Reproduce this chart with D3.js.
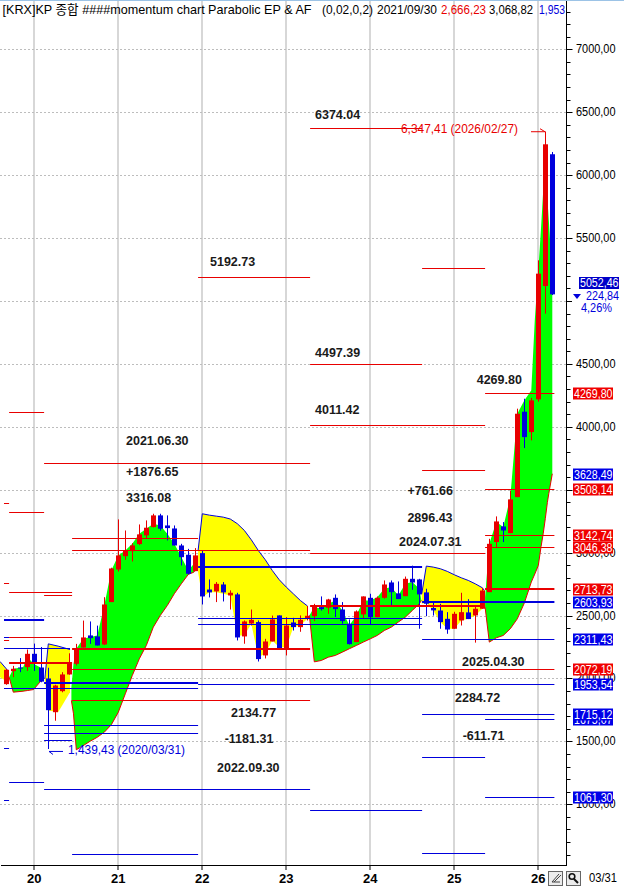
<!DOCTYPE html>
<html><head><meta charset="utf-8">
<script src="https://cdn.jsdelivr.net/npm/d3@7/dist/d3.min.js"></script>
<style>html,body{margin:0;padding:0;background:#fff}svg{display:block}</style></head>
<body><svg id="c" width="624" height="886"></svg>
<script>
// Monthly candles, index 0 = 2019/09, 78 = 2026/03
const opens=[1955,2058,2087,2090,2196,2087,2000,1732,1899,2032,2116,2246,2342,2334,2270,2607,2866,2972,3012,3068,3137,3203,3296,3216,3192,3057,2983,2853,2996,2707,2692,2747,2660,2668,2334,2437,2448,2183,2294,2501,2238,2445,2408,2474,2495,2567,2562,2641,2548,2435,2289,2509,2641,2487,2641,2763,2676,2654,2792,2787,2684,2560,2540,2474,2395,2461,2525,2501,2554,2686,3084,3208,3155,3441,4120,3958,4218,5119,6166];
const highs=[2075,2100,2162,2230,2277,2250,2085,1950,2050,2200,2275,2460,2453,2420,2646,2880,3264,3176,3075,3224,3256,3309,3309,3296,3216,3070,3030,3036,3017,2787,2766,2766,2700,2681,2461,2548,2461,2315,2500,2501,2488,2482,2501,2577,2593,2652,2633,2668,2607,2469,2541,2652,2673,2652,2779,2779,2771,2810,2896.43,2792,2713,2600,2593,2527,2530,2681,2630,2570,2720,3110,3288,3243,3494,4144,4223,4230,5323,6347.41,6184];
const lows=[1950,2010,2050,2060,2060,1970,1439.43,1664,1890,2030,2103,2246,2275,2262,2265,2607,2850,2943,2930,3060,3115,3200,3175,3097,3057,2898,2827,2853,2588,2644,2607,2612,2548,2302,2276,2421,2134.77,2159,2294,2236,2183,2381,2371,2461,2456,2540,2514,2488,2435,2270,2289,2474,2429,2487,2634,2572,2631,2654,2705,2395,2495,2500,2395,2355,2395,2421,2472,2284.72,2554,2686,3036,3084,3155,3441,3831,3892,4200,4899,5047];
const closes=[2069,2077,2083,2196,2116,1975,1748,1944,2032,2116,2241,2326,2320,2262,2588,2874,2978,3017,3057,3145,3198,3296,3190,3195,3057,2964,2832,2978,2652,2684,2752,2684,2681,2326,2453,2466,2154,2294,2469,2238,2421,2408,2466,2498,2577,2551,2628,2551,2456,2273,2533,2652,2487,2641,2747,2686,2631,2792,2763,2668,2594,2541,2448,2389,2514,2527,2472,2554,2699,3070,3248,3176,3423,4104,3918,4210,5217,6245,5052.46];

// Parabolic zones: [month index, SAR, price side]
const yellowZones=[
 [[-0.9,2135,2010],[0.2,2064,1971]],
 [[5.5,1997,1997],[6,2275,1745],[7.4,2257,1732],[9.1,2230,1891]],
 [[27.4,3017,2845],[28,3309,2646],[29,3298,2686],[30,3290,2686],[31,3282,2673],[32,3267,2660],[33,3230,2342],[34,3177,2342],[35,3102,2435],[36,3017,2170],[37,2943,2196],[38,2858,2302],[39,2784,2249],[40,2726,2249],[41,2673,2408],[42,2620,2421],[43,2577,2474]],
 [[59.35,2673,2593],[60,2893,2599],[61,2885,2541],[62,2872,2448],[63,2851,2395],[64,2824,2395],[65,2800,2461],[66,2779,2474],[67,2752,2501],[68,2721,2554],[68.3,2699,2567]]
];
const greenZones=[
 [[0.4,2010,2010],[1,1891,2077],[2.4,1899,2090],[3,1904,2170],[3.9,1912,2116],[4.8,1971,2090],[5.2,1997,2010]],
 [[9.3,1825,1931],[9.6,1719,2116],[10,1433,2236],[11,1467,2315],[12,1502,2329],[13,1533,2342],[14,1573,2580],[15,1632,2858],[16,1732,2978],[17,1878,3017],[18,2024,3071],[19,2156,3150],[20,2262,3190],[21,2408,3230],[22,2501,3216],[23,2580,3150],[24,2673,3071],[25,2752,2965],[26,2827,2858],[26.8,2845,2911],[27.1,2872,2911]],
 [[43.3,2501,2501],[44,2132,2567],[45,2143,2554],[46,2169,2594],[47,2183,2620],[48,2209,2540],[49,2236,2421],[50,2262,2501],[51,2289,2620],[52,2315,2620],[53,2342,2646],[54,2381,2713],[55,2408,2726],[56,2448,2660],[57,2487,2752],[58,2540,2766],[59,2594,2713],[59.3,2620,2620]],
 [[68.4,2567,2646],[69,2289,3070],[70,2323,3243],[71,2342,3203],[72,2395,3441],[73,2474,4104],[74,2599,4210],[75,2766,4290],[75.5,2830,4851],[76,2898,5240],[76.4,3050,5588],[76.7,3150,5874],[77,3270,5900],[77.3,3400,5813],[77.5,3470,5641],[78,3627,5200]]
];

// Level lines: [from month, to month, value]
const redLevels=[[43.4,59.4,6374.04],[27.4,43.4,5192.73],[59.4,68.4,5263],[43.4,59.4,4497.39],[43.4,68.4,4011.42],[68.4,78.3,4269.8],[59.4,68.4,3658],[68.4,78.3,3508.14],[68.4,78.3,3142.74],[68.4,78.3,3046.38],[43.4,68.4,2999],[5.4,43.4,3714],[0.4,5.4,4119],[0.4,5.4,3325],[-0.33,0.4,3396],[9.4,27.4,3116],[9.4,43.4,3019],[0.4,9.4,2687],[5.4,9.4,2665],[-0.33,0.4,2761],[0.4,9.4,2332],[-0.33,0.4,2303],[9.4,78.3,2072.19],[9.4,43.4,1831]];
const redThick=[[68.4,78.3,2713.73],[43.4,68.4,2573],[9.4,43.4,2237],[0.4,9.4,2120]];
const blueLevels=[[27.4,78.3,1953.54],[-0.33,27.4,1927],[-0.33,9.1,2245],[-0.33,0.4,2332],[59.4,78.3,2311.43],[27.4,59.4,2483],[27.4,59.4,2435],[5.4,27.4,1633],[5.4,27.4,1567],[5.4,9.4,1508],[-0.33,0.4,1450],[0.4,5.4,1180],[5.4,43.4,1122],[-0.33,0.4,1037],[9.4,27.4,606],[59.4,78.3,1715.12],[68.4,78.3,1675.07],[59.4,68.4,1376],[68.4,78.3,1061.3],[43.4,59.4,955],[59.4,68.4,614]];
const blueThick=[[-0.33,5.4,2467],[5.4,27.4,1961],[27.4,59.4,2882],[59.4,78.3,2603.93]];

// Axis data
const priceTicks=[7000,6500,6000,5500,5000,4500,4000,3500,3000,2500,2000,1500,1000];
const priceLabels=[7000,6500,6000,5500,4500,4000,3000,2500,2000,1500,1000];
const minorTicks=[7300,7200,7100,6900,6800,6700,6600,6400,6300,6200,6100,5900,5800,5700,5600,5400,5300,5200,5100,4900,4800,4700,4600,4400,4300,4200,4100,3900,3800,3700,3600,3400,3300,3200,3100,2900,2800,2700,2600,2400,2300,2200,2100,1900,1800,1700,1600,1400,1300,1200,1100,900,800,700,600];
const yearTicks=[4,16,28,40,52,64,76];
const yearLabels=["20","21","22","23","24","25","26"];

// Right-hand price tags
const tagValues=[4269.80,3628.49,3508.14,3142.74,3046.38,2713.73,2603.93,2311.43,2072.19,1953.54,1675.07,1715.12,1061.30];
const tagLabels=["4269,80","3628,49","3508,14","3142,74","3046,38","2713,73","2603,93","2311,43","2072,19","1953,54","1675,07","1715,12","1061,30"];
const tagColors=["r","b","r","r","r","r","b","b","r","b","b","b","b"];

// Annotations: [text, month, value]
const notes=[["6374.04",44.1,6480],["5192.73",29.1,5306],["4497.39",44.1,4590],["4011.42",44.1,4130],["2021.06.30",17.1,3889],["+1876.65",17.1,3642],["3316.08",17.1,3436],["4269.80",67.2,4373],["+761.66",57.3,3492],["2896.43",57.3,3277],["2024.07.31",56.1,3087],["2134.77",32.1,1724],["-1181.31",31.2,1517],["2022.09.30",30.1,1287],["2025.04.30",65.1,2133],["2284.72",64.1,1841],["-611.71",65.2,1539]];

const W=566,T=1,B=865;
const x=d3.scaleLinear().domain([0,80]).range([6.3,566.3]);
const y=d3.scaleLinear().domain([1000,7000]).range([804.3,49.3]);
const svg=d3.select("#c");
const NARROW="'Liberation Sans Narrow','Liberation Sans',sans-serif";
const RED="#e80000",BLUE="#0000dc";
const defs=svg.append("defs");
defs.append("clipPath").attr("id","plot").append("rect").attr("x",0).attr("y",T).attr("width",W).attr("height",B-T);

// frame
svg.append("rect").attr("x",0).attr("y",0).attr("width",624).attr("height",1).attr("fill","#9cc3e6");

// grid
const grid=svg.append("g");
grid.selectAll("line.h").data(priceTicks).join("line").attr("class","h")
 .attr("x1",0).attr("x2",W).attr("y1",d=>Math.round(y(d))+.5).attr("y2",d=>Math.round(y(d))+.5)
 .attr("stroke","#bdbdbd").attr("stroke-dasharray","2 2");
grid.selectAll("line.v").data(yearTicks).join("line").attr("class","v")
 .attr("x1",d=>Math.round(x(d))).attr("x2",d=>Math.round(x(d))).attr("y1",T).attr("y2",B)
 .attr("stroke","#bcbcbc").attr("stroke-width",1.2);

const plot=svg.append("g").attr("clip-path","url(#plot)");
const area=d3.area().x(d=>x(d[0])).y0(d=>y(d[1])).y1(d=>y(d[2]));
const sarLine=d3.line().x(d=>x(d[0])).y(d=>y(d[1]));
greenZones.forEach(z=>plot.append("path").attr("d",area(z)).attr("fill","#00ff00"));
yellowZones.forEach(z=>plot.append("path").attr("d",area(z)).attr("fill","#ffff00"));
greenZones.forEach(z=>plot.append("path").attr("d",sarLine(z)).attr("fill","none").attr("stroke",RED).attr("stroke-width",1));
yellowZones.forEach(z=>plot.append("path").attr("d",sarLine(z)).attr("fill","none").attr("stroke",BLUE).attr("stroke-width",1));

// candles
const idx=d3.range(closes.length);
const col=i=>closes[i]>=opens[i]?RED:BLUE;
plot.selectAll("line.w").data(idx).join("line").attr("class","w")
 .attr("x1",i=>Math.round(x(i))+.5).attr("x2",i=>Math.round(x(i))+.5)
 .attr("y1",i=>y(highs[i])).attr("y2",i=>y(lows[i])).attr("stroke",col);
plot.selectAll("rect.b").data(idx).join("rect").attr("class","b")
 .attr("x",i=>Math.round(x(i))-2).attr("width",5)
 .attr("y",i=>y(Math.max(opens[i],closes[i])))
 .attr("height",i=>Math.max(1,Math.abs(y(opens[i])-y(closes[i]))))
 .attr("fill",col);

// level lines
function levels(arr,c,w){
 plot.selectAll(null).data(arr).join("line")
  .attr("x1",d=>x(d[0])).attr("x2",d=>x(d[1]))
  .attr("y1",d=>Math.round(y(d[2]))+(w%2?.5:0)).attr("y2",d=>Math.round(y(d[2]))+(w%2?.5:0))
  .attr("stroke",c).attr("stroke-width",w);
}
levels(redLevels,RED,1);levels(blueLevels,BLUE,1);levels(redThick,RED,2);levels(blueThick,BLUE,2);

function fitText(g,str,xp,yp,len,c,fs,fam,weight){
 return g.append("text").attr("x",xp).attr("y",yp).attr("dominant-baseline","central")
  .attr("font-family",fam||NARROW).attr("font-size",fs||13).attr("font-weight",weight||400)
  .attr("fill",c||"#000").attr("textLength",len).attr("lengthAdjust","spacingAndGlyphs").text(str);
}
// extremes notes
const ext=svg.append("g");
fitText(ext,"6,347,41 (2026/02/27)",401,y(6374)+.5,117,RED,12.5);
ext.append("path").attr("d",`M531 ${y(6345)}H545 M540 ${y(6345)-3}L545 ${y(6345)}`).attr("stroke",RED).attr("fill","none");
fitText(ext,"1,439,43 (2020/03/31)",68,y(1439.43)+1,117,BLUE,12.5);
ext.append("path").attr("d",`M49 ${y(1420)}H63 M49 ${y(1420)}L53 ${y(1420)+3}`).attr("stroke",BLUE).attr("fill","none");

// bold annotations
svg.selectAll("text.n").data(notes).join("text").attr("class","n")
 .attr("x",d=>x(d[1])).attr("y",d=>y(d[2])).attr("dominant-baseline","central")
 .attr("font-family","'Liberation Sans',Arial,sans-serif").attr("font-weight",700).attr("font-size",12.5)
 .attr("fill","#1a1a1a").text(d=>d[0]);

// right axis
const ax=svg.append("g").attr("transform",`translate(${W}.5,0)`);
ax.append("line").attr("x1",0).attr("x2",0).attr("y1",T).attr("y2",B).attr("stroke","#000");
ax.selectAll("line.mi").data(minorTicks.filter(v=>y(v)<B-2)).join("line").attr("class","mi")
 .attr("x1",0).attr("x2",4).attr("y1",d=>Math.round(y(d))+.5).attr("y2",d=>Math.round(y(d))+.5).attr("stroke","#000");
ax.selectAll("line.ma").data(priceTicks).join("line").attr("class","ma")
 .attr("x1",0).attr("x2",6).attr("y1",d=>Math.round(y(d))+.5).attr("y2",d=>Math.round(y(d))+.5).attr("stroke","#000");
const fmt=d=>d+",00";
priceLabels.forEach(v=>fitText(svg,fmt(v),576,y(v),39.5,"#000",12.5));

// tags
tagValues.forEach((v,i)=>{
 const c=tagColors[i]==="r"?"#f00000":"#0000e8",yy=Math.round(y(v))+.5;
 svg.append("rect").attr("x",573).attr("y",yy-6).attr("width",40).attr("height",12).attr("fill",c);
 fitText(svg,tagLabels[i],574,yy,38.5,"#fff",12.5);
});
// last price block
svg.append("rect").attr("x",572).attr("y",276).attr("width",50).attr("height",40).attr("fill","#fff");
svg.append("rect").attr("x",579).attr("y",277).attr("width",40).attr("height",12).attr("fill","#0000c8");
fitText(svg,"5052,46",580,283,38.5,"#fff",12.5);
svg.append("path").attr("d","M573 294H581L577 299Z").attr("fill",BLUE);
fitText(svg,"224,84",586,296,33,BLUE,12.5);
fitText(svg,"4,26%",581,308,31,BLUE,12.5);

// bottom axis
const bx=svg.append("g");
bx.append("line").attr("x1",1).attr("x2",W+1).attr("y1",B+.5).attr("y2",B+.5).attr("stroke","#000");
bx.selectAll("line.t").data(yearTicks).join("line").attr("class","t")
 .attr("x1",d=>Math.round(x(d))).attr("x2",d=>Math.round(x(d))).attr("y1",B).attr("y2",B+5).attr("stroke","#000");
bx.selectAll("text").data(yearTicks).join("text")
 .attr("x",d=>x(d)).attr("y",878).attr("text-anchor","middle").attr("dominant-baseline","central")
 .attr("font-family","'Liberation Sans',Arial,sans-serif").attr("font-weight",700).attr("font-size",13)
 .text((d,i)=>yearLabels[i]);
fitText(svg,"03/31",589,878,28,"#000",12.5);

// tool buttons
const tb=svg.append("g");
[[548.5,871.5],[566.5,871.5]].forEach(p=>{
 tb.append("rect").attr("x",p[0]).attr("y",p[1]).attr("width",14).attr("height",14).attr("fill","#ececec").attr("stroke","#666");
});
tb.append("path").attr("d","M552 882L559 874M554 882L561 875M552 882H560").attr("stroke","#444").attr("fill","none");
tb.append("circle").attr("cx",572).attr("cy",876.5).attr("r",2.8).attr("fill","none").attr("stroke","#111").attr("stroke-width",1.6);
tb.append("path").attr("d","M574 879L578 883").attr("stroke","#111").attr("stroke-width",2);

// header
const hd=svg.append("g");
const FF="'Liberation Sans','Noto Sans CJK KR',sans-serif";
fitText(hd,"[KRX]KP 종합 ####momentum chart Parabolic EP & AF",2.5,9.5,309,"#000",13,FF);
fitText(hd,"(0,02,0,2)",322,9.5,51,"#000",13);
fitText(hd,"2021/09/30",377,9.5,60,"#000",13);
fitText(hd,"2,666,23",441,9.5,45,RED,13);
fitText(hd,"3,068,82",489,9.5,44,"#000",13);
fitText(hd,"1,953",539,9.5,26,BLUE,13);
</script></body></html>
